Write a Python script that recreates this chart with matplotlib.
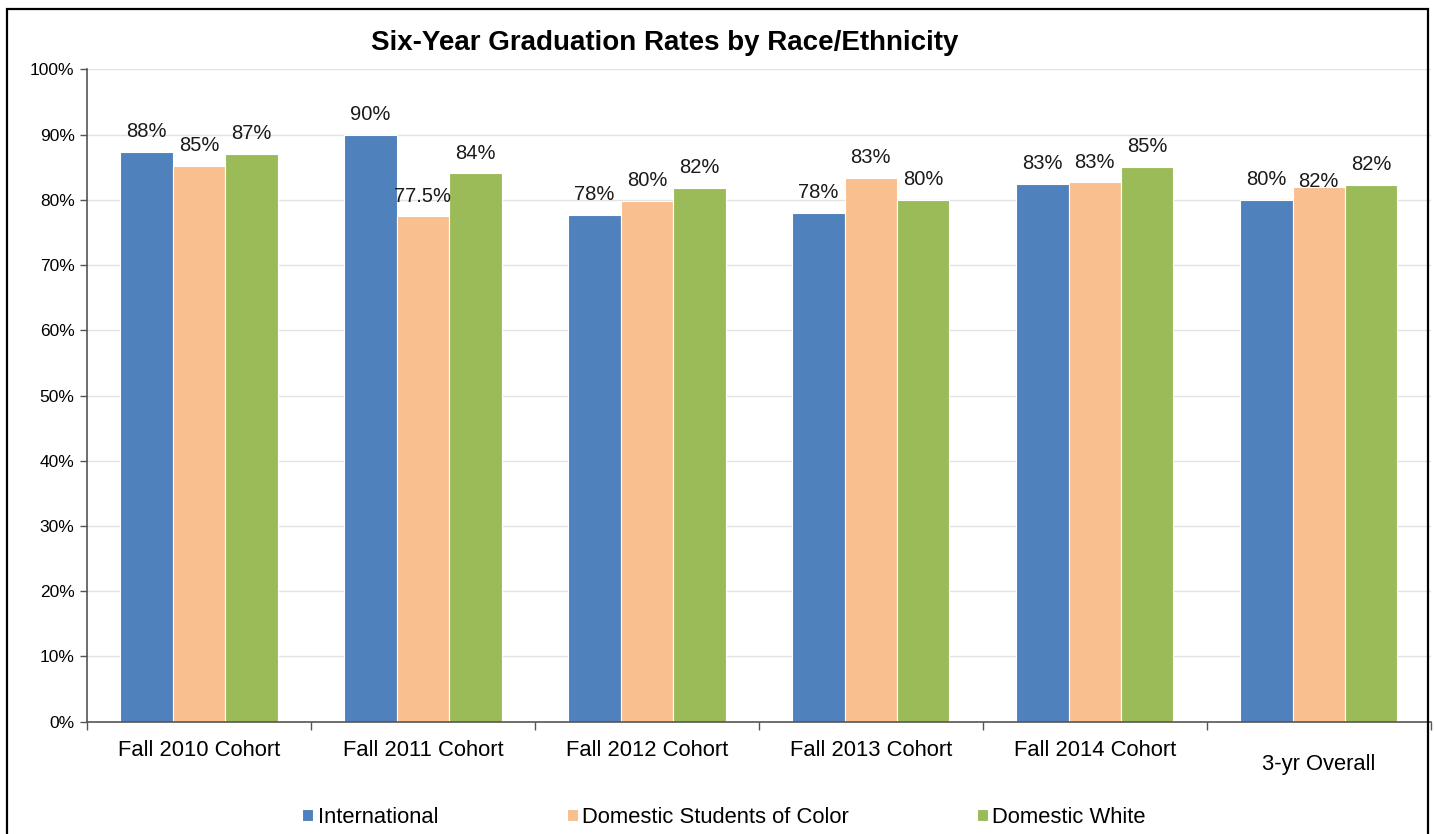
import matplotlib
matplotlib.use("Agg")
import matplotlib.pyplot as plt
from matplotlib.patches import Rectangle
from matplotlib.transforms import ScaledTranslation
import numpy as np

plt.rcParams['font.family'] = ['Liberation Sans', 'DejaVu Sans']

categories = ["Fall 2010 Cohort", "Fall 2011 Cohort", "Fall 2012 Cohort",
              "Fall 2013 Cohort", "Fall 2014 Cohort", "3-yr Overall"]
series_names = ["International", "Domestic Students of Color", "Domestic White"]
international = [87.4, 90.0, 77.7, 78.0, 82.5, 80.0]
students_of_color = [85.2, 77.5, 79.9, 83.4, 82.7, 82.0]
domestic_white = [87.1, 84.1, 81.9, 80.0, 85.1, 82.3]
intl_labels = ["88%", "90%", "78%", "78%", "83%", "80%"]
soc_labels = ["85%", "77.5%", "80%", "83%", "83%", "82%"]
white_labels = ["87%", "84%", "82%", "80%", "85%", "82%"]
colors = ["#4F81BD", "#F9BF8F", "#9BBB59"]

fig = plt.figure(figsize=(14.34, 8.34), dpi=100)
ax = fig.add_axes([0.0607, 0.1347, 0.937, 0.782])

x = np.arange(len(categories))
w = 0.234
all_vals = [international, students_of_color, domestic_white]
all_labels = [intl_labels, soc_labels, white_labels]
for i, (vals, labs) in enumerate(zip(all_vals, all_labels)):
    pos = x + (i - 1) * w
    ax.bar(pos, vals, width=w, color=colors[i], edgecolor="white", linewidth=0.8,
           label=series_names[i], zorder=2)
    for j, (px, v, lab) in enumerate(zip(pos, vals, labs)):
        # the 3-yr "Domestic Students of Color" label sits close to its bar in the original
        off = 3.6 if (i == 1 and j == len(categories) - 1) else 14.4
        ax.annotate(lab, (px, v), textcoords="offset points", xytext=(0, off),
                    ha="center", va="center", fontsize=14.5, color="#1a1a1a")

ax.set_xlim(-0.5, len(categories) - 0.5)
ax.set_ylim(0, 100)
ax.set_yticks(np.arange(0, 101, 10))
ax.set_yticklabels([f"{t}%" for t in range(0, 101, 10)], fontsize=12.5)
ax.tick_params(axis="y", length=5, width=1, color="#555555", pad=4)

ax.set_xticks(np.arange(-0.5, len(categories) + 0.5, 1))
ax.set_xticklabels([])
ax.set_xticks(x, minor=True)
ax.set_xticklabels(categories, minor=True, fontsize=15.8)
ax.tick_params(axis="x", which="major", length=6, width=1, color="#555555")
ax.tick_params(axis="x", which="minor", length=0, pad=13)
last = ax.get_xticklabels(minor=True)[-1]
last.set_transform(last.get_transform() + ScaledTranslation(0, -14 / 100, fig.dpi_scale_trans))

ax.grid(axis="y", color="#e3e3e3", linewidth=1, zorder=0)
ax.set_axisbelow(True)
for s in ["top", "right"]:
    ax.spines[s].set_visible(False)
for s in ["left", "bottom"]:
    ax.spines[s].set_color("#555555")
    ax.spines[s].set_linewidth(1.2)

fig.text(0.4637, 0.949, "Six-Year Graduation Rates by Race/Ethnicity",
         ha="center", va="center", fontsize=20, fontweight="bold")

fig.legend(loc="center", bbox_to_anchor=(0.505, 0.02), ncol=3, frameon=False,
           fontsize=15.8, handlelength=0.5, handleheight=0.5, handletextpad=0.2,
           columnspacing=5.85)

fig.patches.append(Rectangle((0.0049, -0.05), 0.991, 1.039, transform=fig.transFigure,
                             fill=False, edgecolor="black", linewidth=1.6))

fig.savefig("out.png", dpi=100)
